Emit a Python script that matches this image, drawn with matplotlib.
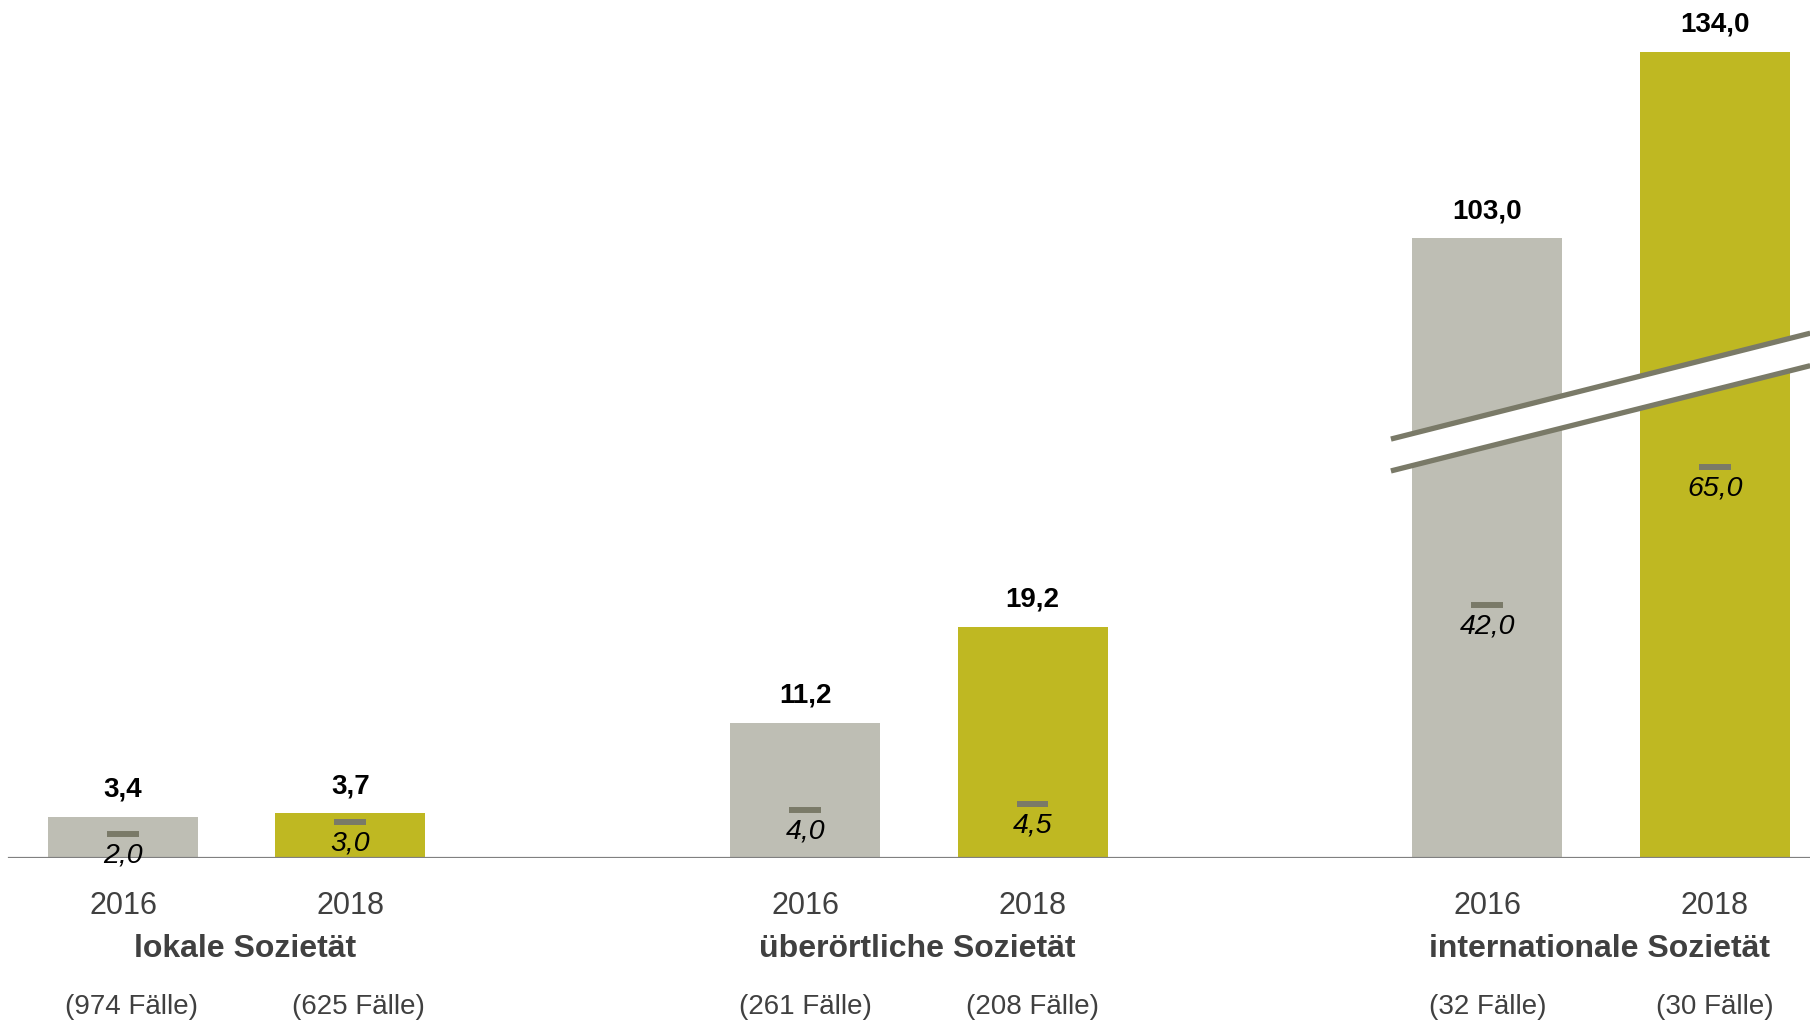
import matplotlib
matplotlib.use('Agg')
import matplotlib.pyplot as plt
import numpy as np

plt.rcParams['font.family'] = ['Liberation Sans', 'DejaVu Sans']

# data
groups = ['lokale Sozietät', 'überörtliche Sozietät', 'internationale Sozietät']
years = ['2016', '2018']
means_2016 = [3.4, 11.2, 103.0]
means_2018 = [3.7, 19.2, 134.0]
medians_2016 = [2.0, 4.0, 42.0]
medians_2018 = [3.0, 4.5, 65.0]
cases_2016 = [974, 261, 32]
cases_2018 = [625, 208, 30]
# the international group is drawn at half scale (broken axis)
scale = [1.0, 1.0, 0.5]

col_2016 = '#bebeb4'
col_2018 = '#bfb822'
col_median = '#7a7a68'
col_text = '#404040'

# small horizontal nudges (points) for labels below the axis
cases_dx = [5.8, 0, 0]
group_dx = [5.8, -1.2, -1.2]

def fmt(v):
    return ('%.1f' % v).replace('.', ',')

fig = plt.figure(figsize=(18.1, 10.22), dpi=100)
ax = fig.add_axes([0, 0.1608, 1, 0.8392])

width = 0.66
group_pos = np.array([0, 3, 6])
series = [(years[0], means_2016, medians_2016, cases_2016, col_2016, 0),
          (years[1], means_2018, medians_2018, cases_2018, col_2018, 1)]

for year, means, medians, cases, col, off in series:
    for i in range(len(groups)):
        x = group_pos[i] + off
        h = means[i] * scale[i]
        m = medians[i] * scale[i]
        ax.bar(x, h, width=width, color=col, zorder=2)
        ax.annotate(fmt(means[i]), (x, h), xytext=(0, 19.5), textcoords='offset points',
                    ha='center', va='center', fontsize=20, fontweight='bold', color='black')
        ax.plot([x - 0.07, x + 0.07], [m, m], color=col_median, lw=4.3,
                solid_capstyle='butt', zorder=4)
        ax.annotate(fmt(medians[i]), (x, m), xytext=(0, -15.5), textcoords='offset points',
                    ha='center', va='center', fontsize=20.5, fontstyle='italic', color='black',
                    zorder=5)
        ax.annotate(year, (x, 0), xytext=(0, -34.5), textcoords='offset points',
                    ha='center', va='center', fontsize=22, color=col_text,
                    annotation_clip=False)
        ax.annotate('(%d Fälle)' % cases[i], (x, 0), xytext=(cases_dx[i], -107.3),
                    textcoords='offset points', ha='center', va='center',
                    fontsize=20, color=col_text, annotation_clip=False)

for i, g in enumerate(groups):
    ax.annotate(g, (group_pos[i] + 0.5, 0), xytext=(group_dx[i], -65.7), textcoords='offset points',
                ha='center', va='center', fontsize=23, fontweight='bold', color=col_text,
                annotation_clip=False)

# baseline
ax.plot([-0.50, 7.42], [0, 0], color='#808080', lw=1.6, zorder=3)

# axis break across the international group
bx = np.array([5.576, 7.42])
upper = np.array([34.8, 43.6])
lower = np.array([32.15, 40.9])
ax.fill_between(bx, lower, upper, color='white', zorder=6, lw=0)
ax.plot(bx, upper, color=col_median, lw=3.8, zorder=7, solid_capstyle='butt')
ax.plot(bx, lower, color=col_median, lw=3.8, zorder=7, solid_capstyle='butt')

ax.set_xlim(-0.541, 7.419)
ax.set_ylim(0, 71.3)
ax.axis('off')

fig.savefig('out.png', dpi=100)
